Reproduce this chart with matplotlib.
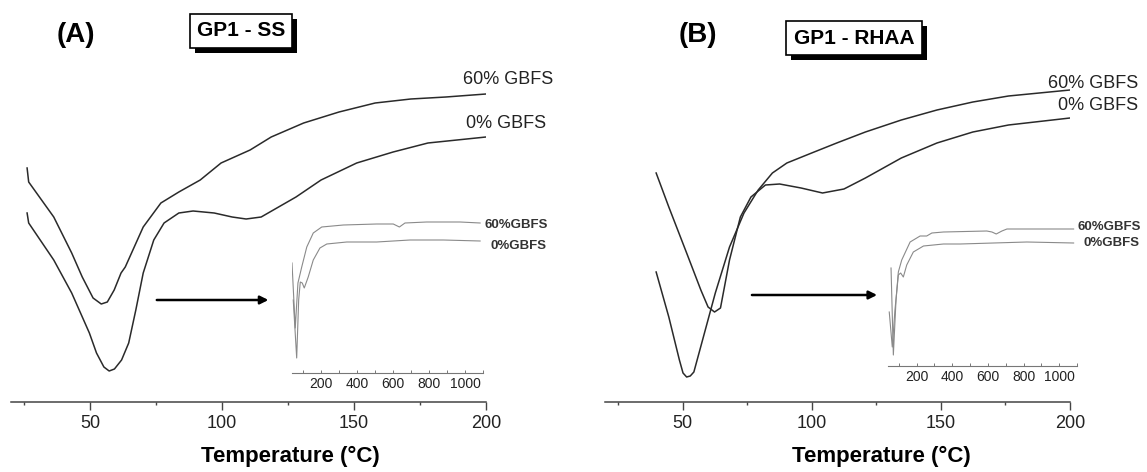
import matplotlib
matplotlib.use("Agg")
import matplotlib.pyplot as plt
from matplotlib.ticker import MultipleLocator
from matplotlib.patches import Rectangle

plt.rcParams['font.family'] = ['Liberation Sans', 'DejaVu Sans']

W, H = 1147, 472

# ---- panel A : GP1 - SS (main DSC curves, arbitrary heat flow units) ----
a60_t = [26.1, 26.7, 36.2, 43.0, 47.0, 51.1, 54.2, 56.5, 59.1, 61.7, 63.3, 70.1, 76.8, 83.6,
         91.7, 99.6, 110.6, 118.6, 130.9, 144.3, 158.0, 171.5, 184.8, 200]
a60_hf = [23.4, 22.0, 18.5, 14.9, 12.5, 10.4, 9.8, 10.0, 11.2, 12.9, 13.5, 17.5, 19.9, 21.0,
          22.2, 23.9, 25.2, 26.5, 27.9, 29.0, 29.9, 30.3, 30.5, 30.8]
a0_t = [26.1, 26.7, 36.2, 43.0, 49.7, 52.4, 55.2, 57.2, 59.2, 61.9, 64.6, 67.3, 70.1, 74.1,
        78.0, 83.6, 89.0, 97.0, 103.8, 109.1, 114.8, 121.4, 128.0, 137.5, 151.0, 164.8,
        178.0, 189.0, 200]
a0_hf = [18.9, 17.9, 14.2, 10.9, 6.9, 4.9, 3.5, 3.1, 3.3, 4.2, 5.9, 9.2, 12.9, 16.2,
         17.9, 18.9, 19.1, 18.9, 18.5, 18.3, 18.5, 19.5, 20.5, 22.2, 23.9, 25.0,
         25.9, 26.2, 26.5]

# inset A (full range)
ia60_t = [40, 58, 73, 94, 122, 158, 205, 325, 510, 602, 636, 667, 787, 973, 1084]
ia60_hf = [11.0, 4.5, 9.0, 10.6, 12.6, 14.0, 14.6, 14.8, 14.9, 14.9, 14.6, 15.0, 15.1, 15.1, 15.0]
ia0_t = [47, 66, 77, 86, 97, 108, 130, 158, 195, 233, 344, 510, 602, 695, 880, 1084]
ia0_hf = [7.3, 1.5, 7.3, 9.1, 9.0, 8.5, 9.6, 11.3, 12.5, 12.9, 13.1, 13.1, 13.2, 13.3, 13.3, 13.2]

# ---- panel B : GP1 - RHAA ----
b0_t = [39.8, 44.7, 51.6, 57.1, 59.9, 62.4, 64.7, 68.2, 72.4, 76.5, 82.1, 87.6, 95.9, 104.2,
        112.5, 120.8, 134.7, 148.5, 162.4, 176.2, 200]
b0_hf = [22.9, 19.5, 14.9, 11.2, 9.5, 9.0, 9.4, 14.2, 18.5, 20.5, 21.7, 21.8, 21.4, 20.9,
         21.3, 22.4, 24.4, 25.9, 27.0, 27.7, 28.4]
b60_t = [39.8, 44.7, 48.8, 50.2, 51.6, 53.0, 54.4, 58.5, 62.7, 68.2, 73.8, 79.3, 84.8, 90.4,
         100, 109.7, 120.8, 134.7, 148.5, 162.4, 176.2, 200]
b60_hf = [13.0, 8.5, 4.2, 2.9, 2.5, 2.6, 3.0, 6.9, 10.9, 15.5, 18.9, 21.2, 22.9, 23.9,
          24.9, 25.9, 27.0, 28.2, 29.2, 30.0, 30.6, 31.2]

ib60_t = [57, 70, 85, 98, 117, 164, 220, 257, 286, 351, 594, 623, 647, 679, 707, 913, 1081]
ib60_hf = [9.8, 1.1, 6.6, 9.4, 10.6, 12.4, 13.0, 13.0, 13.3, 13.4, 13.5, 13.4, 13.2, 13.5, 13.7, 13.7, 13.7]
ib0_t = [47, 64, 79, 98, 111, 126, 145, 182, 239, 351, 445, 632, 819, 1081]
ib0_hf = [5.4, 1.9, 5.6, 9.1, 9.3, 8.9, 10.1, 11.4, 12.0, 12.2, 12.2, 12.3, 12.4, 12.3]

main_ticks = [50, 100, 150, 200]
inset_ticks = [200, 400, 600, 800, 1000]

fig = plt.figure(figsize=(W / 100, H / 100), dpi=100)


def px_box(x0, x1, ytop, ybot):
    return [x0 / W, 1 - ybot / H, (x1 - x0) / W, (ybot - ytop) / H]


def style_main(ax):
    for s in ['left', 'right', 'top']:
        ax.spines[s].set_visible(False)
    ax.spines['bottom'].set_color('#444444')
    ax.spines['bottom'].set_linewidth(1.1)
    ax.set_yticks([])
    ax.set_xlim(20, 200)
    ax.set_ylim(0, 40.2)
    ax.set_xticks(main_ticks)
    ax.xaxis.set_minor_locator(MultipleLocator(25))
    ax.tick_params(axis='x', which='major', length=5.5, width=1, color='#444444',
                   labelsize=13, pad=4, labelcolor='#222222')
    ax.tick_params(axis='x', which='minor', length=2.5, width=1, color='#444444')
    ax.patch.set_alpha(0)


def style_inset(ax):
    for s in ['left', 'right', 'top']:
        ax.spines[s].set_visible(False)
    ax.spines['bottom'].set_color('#777777')
    ax.spines['bottom'].set_linewidth(0.8)
    ax.set_yticks([])
    ax.set_xlim(40, 1100)
    ax.set_ylim(0, 16.3)
    ax.set_xticks(inset_ticks)
    ax.xaxis.set_minor_locator(MultipleLocator(100))
    ax.tick_params(axis='x', which='both', direction='in', length=2, width=0.7,
                   color='#777777', labelsize=10, pad=3, labelcolor='#222222')
    ax.patch.set_alpha(0)


line_kw = dict(color='#2a2a2a', lw=1.1)
inset_kw = dict(color='#8a8a8a', lw=0.8)

# ---------- panel A ----------
axA = fig.add_axes(px_box(11, 486, 0, 402))
style_main(axA)
axA.plot(a60_t, a60_hf, **line_kw)
axA.plot(a0_t, a0_hf, **line_kw)
axA.text(191.3, 32.3, '60% GBFS', fontsize=13, ha='left', va='center', color='#222222')
axA.text(192.4, 27.9, '0% GBFS', fontsize=13, ha='left', va='center', color='#222222')
axA.annotate('', xy=(118.6, 10.2), xytext=(74.2, 10.2),
             arrowprops=dict(arrowstyle='-|>', color='black', lw=1.8, mutation_scale=12))
axA.set_xlabel('Temperature (°C)', fontsize=16, fontweight='bold')
axA.xaxis.set_label_coords((126 - 20) / 180, -0.108)

iaA = fig.add_axes(px_box(292, 483, 210, 373))
style_inset(iaA)
iaA.plot(ia60_t, ia60_hf, **inset_kw)
iaA.plot(ia0_t, ia0_hf, **inset_kw)
iaA.text(1111, 14.8, '60%GBFS', fontsize=9.5, fontweight='bold', color='#333333',
         ha='left', va='center')
iaA.text(1139, 12.7, '0%GBFS', fontsize=9.5, fontweight='bold', color='#333333',
         ha='left', va='center')

fig.text(76 / W, 1 - 35 / H, '(A)', fontsize=20, fontweight='bold', ha='center', va='center')
tA = fig.text(241 / W, 1 - 31 / H, 'GP1 - SS', ha='center', va='center', fontsize=15,
              fontweight='bold',
              bbox=dict(boxstyle='square,pad=0.35', fc='white', ec='black', lw=1.2))

# ---------- panel B ----------
axB = fig.add_axes(px_box(605, 1070, 0, 402))
style_main(axB)
axB.plot(b60_t, b60_hf, **line_kw)
axB.plot(b0_t, b0_hf, **line_kw)
axB.text(191.5, 31.9, '60% GBFS', fontsize=13, ha='left', va='center', color='#222222')
axB.text(195.3, 29.7, '0% GBFS', fontsize=13, ha='left', va='center', color='#222222')
axB.annotate('', xy=(126.4, 10.7), xytext=(75.8, 10.7),
             arrowprops=dict(arrowstyle='-|>', color='black', lw=1.8, mutation_scale=12))
axB.set_xlabel('Temperature (°C)', fontsize=16, fontweight='bold')
axB.xaxis.set_label_coords((127 - 20) / 180, -0.108)

iaB = fig.add_axes(px_box(888, 1077, 203, 366))
style_inset(iaB)
iaB.plot(ib60_t, ib60_hf, **inset_kw)
iaB.plot(ib0_t, ib0_hf, **inset_kw)
iaB.text(1102, 13.9, '60%GBFS', fontsize=9.5, fontweight='bold', color='#333333',
         ha='left', va='center')
iaB.text(1135, 12.3, '0%GBFS', fontsize=9.5, fontweight='bold', color='#333333',
         ha='left', va='center')

fig.text(698 / W, 1 - 35 / H, '(B)', fontsize=20, fontweight='bold', ha='center', va='center')
tB = fig.text(854 / W, 1 - 38 / H, 'GP1 - RHAA', ha='center', va='center', fontsize=15,
              fontweight='bold',
              bbox=dict(boxstyle='square,pad=0.35', fc='white', ec='black', lw=1.2))

# drop shadows behind the boxed titles
fig.canvas.draw()
renderer = fig.canvas.get_renderer()
for t in (tA, tB):
    bb = t.get_bbox_patch().get_window_extent(renderer)
    fig.add_artist(Rectangle(((bb.x0 + 5) / W, (bb.y0 - 5) / H), bb.width / W, bb.height / H,
                             transform=fig.transFigure, fc='black', ec='none',
                             zorder=t.get_zorder() - 1))

fig.savefig('out.png', dpi=100)
